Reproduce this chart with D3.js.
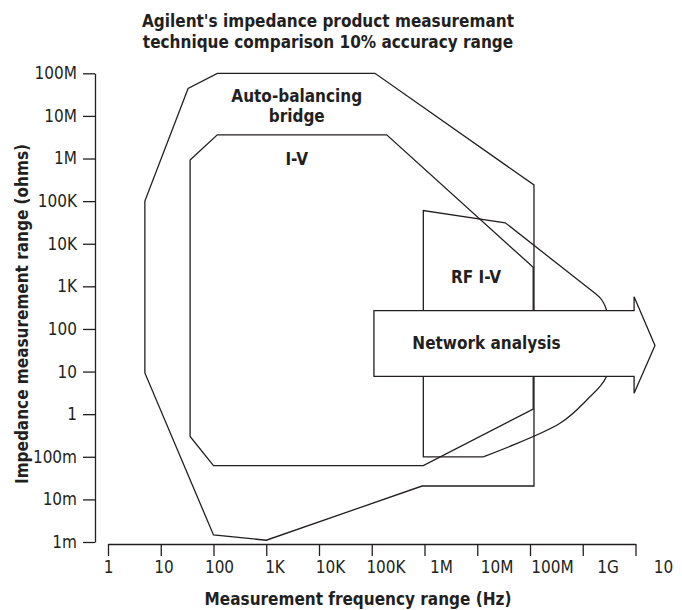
<!DOCTYPE html>
<html>
<head>
<meta charset="utf-8">
<script src="https://cdn.jsdelivr.net/npm/d3@7/dist/d3.min.js"></script>
<style>
  body { margin: 0; background: #fff; }
  svg { display: block; }
</style>
</head>
<body>
<div id="chart"></div>
<script>
// tick values and their printed labels
var xTicks = [1, 1e1, 1e2, 1e3, 1e4, 1e5, 1e6, 1e7, 1e8, 1e9, 1e10];
var xTickLabels = ['1', '10', '100', '1K', '10K', '100K', '1M', '10M', '100M', '1G', '10'];
var yTicks = [1e-3, 1e-2, 1e-1, 1, 1e1, 1e2, 1e3, 1e4, 1e5, 1e6, 1e7, 1e8];
var yTickLabels = ['1m', '10m', '100m', '1', '10', '100', '1K', '10K', '100K', '1M', '10M', '100M'];

// regions as [frequency Hz, impedance ohms]
var autoBalancing = [[118, 1e8], [1.15e5, 1e8], [1.19e8, 2.4e5], [1.19e8, 0.0206], [9e5, 0.0206],
  [1000, 1.1e-3], [100, 1.46e-3], [5, 9.3], [5, 1e5], [33, 4.4e7]];
var ivRange = [[36, 9.2e5], [118, 3.6e6], [1.92e5, 3.6e6], [1.15e8, 2800], [1.15e8, 1.32],
  [9.5e5, 0.062], [100, 0.062], [36, 0.3]];
var rfIvEdges = [[1.3e7, 0.1], [9.5e5, 0.1], [9.5e5, 6e4], [3.4e7, 3.1e4], [1.78e9, 660]];
var rfIvBend = [[1.78e9, 660], [2.3e9, 478], [2.85e9, 268], [3.15e9, 47], [2.8e9, 7.6],
  [1.19e9, 2.15], [3.7e8, 0.61], [1.3e7, 0.1]];
var networkArrow = [[1.1e5, 270], [9.4e9, 270], [9.4e9, 570], [2.34e10, 41], [9.4e9, 3.1],
  [9.4e9, 7.7], [1.1e5, 7.7]];

var regionNames = ['Auto-balancing', 'bridge', 'I-V', 'RF I-V', 'Network analysis'];
var regionNameFreq = [3780, 3780, 3780, 9.5e6, 1.5e7];
var regionNameOhms = [2.15e7, 7.3e6, 7e5, 1220, 33];

(function () {
  'use strict';

  var W = 682, H = 610,
    FONT = "'Liberation Sans Narrow', 'DejaVu Sans Condensed', 'Arial Narrow', sans-serif",
    INK = '#231f20',
    svg, x, xLabel, y, line, bend;

  svg = d3.select('#chart').append('svg')
    .attr('width', W)
    .attr('height', H)
    .attr('font-family', FONT);

  x = d3.scaleLog().domain([1, 1e10]).range([108, 635.5]);
  // the printed labels drift a little to the right of the ticks
  xLabel = d3.scaleLog().domain([1, 1e10]).range([108, 663]);
  y = d3.scaleLog().domain([1e-3, 1e8]).range([542, 73.3]);

  line = d3.line()
    .x(function (d) { return x(d[0]); })
    .y(function (d) { return y(d[1]); });
  bend = d3.line()
    .x(function (d) { return x(d[0]); })
    .y(function (d) { return y(d[1]); })
    .curve(d3.curveCatmullRom.alpha(0.5));

  function outline(pts, closed) {
    return svg.append('path')
      .attr('d', line(pts) + (closed ? 'Z' : ''))
      .attr('fill', 'none')
      .attr('stroke', INK)
      .attr('stroke-width', 1.3)
      .attr('stroke-linejoin', 'miter');
  }

  outline(autoBalancing, true);
  outline(ivRange, true);
  outline(rfIvEdges, false);
  svg.append('path')
    .attr('d', bend(rfIvBend))
    .attr('fill', 'none')
    .attr('stroke', INK)
    .attr('stroke-width', 1.3);

  outline(networkArrow, true).attr('fill', '#fff');

  // axes
  var gx = svg.append('g')
    .attr('transform', 'translate(0,544)')
    .call(d3.axisBottom(x).tickValues(xTicks).tickFormat('').tickSize(12).tickSizeOuter(0));

  var gxl = svg.append('g')
    .attr('transform', 'translate(0,544)')
    .call(d3.axisBottom(xLabel).tickValues(xTicks)
      .tickFormat(function (d, i) { return xTickLabels[i]; })
      .tickSize(0).tickPadding(17));
  gxl.select('.domain').remove();

  var gy = svg.append('g')
    .attr('transform', 'translate(95,0)')
    .call(d3.axisLeft(y).tickValues(yTicks)
      .tickFormat(function (d, i) { return yTickLabels[i]; })
      .tickSize(12).tickSizeOuter(0).tickPadding(6));

  [gx, gxl, gy].forEach(function (g) {
    g.attr('font-family', FONT).attr('font-size', 17);
    g.selectAll('path, line').attr('stroke', INK).attr('stroke-width', 1.3);
    g.selectAll('text').attr('fill', INK);
  });

  // region names
  svg.selectAll('text.region')
    .data(regionNames)
    .enter().append('text')
    .attr('class', 'region')
    .attr('x', function (d, i) { return x(regionNameFreq[i]); })
    .attr('y', function (d, i) { return y(regionNameOhms[i]); })
    .attr('text-anchor', 'middle')
    .attr('font-size', 17)
    .attr('font-weight', 'bold')
    .attr('fill', INK)
    .text(function (d) { return d; });

  // titles
  svg.append('text')
    .attr('x', 328).attr('y', 27)
    .attr('text-anchor', 'middle')
    .attr('font-size', 17).attr('font-weight', 'bold').attr('fill', INK)
    .text("Agilent's impedance product measuremant");
  svg.append('text')
    .attr('x', 328).attr('y', 48)
    .attr('text-anchor', 'middle')
    .attr('font-size', 17).attr('font-weight', 'bold').attr('fill', INK)
    .text('technique comparison 10% accuracy range');

  svg.append('text')
    .attr('x', 358).attr('y', 605)
    .attr('text-anchor', 'middle')
    .attr('font-size', 17).attr('font-weight', 'bold').attr('fill', INK)
    .text('Measurement frequency range (Hz)');

  svg.append('text')
    .attr('transform', 'translate(28,314) rotate(-90)')
    .attr('text-anchor', 'middle')
    .attr('font-size', 17).attr('font-weight', 'bold').attr('fill', INK)
    .text('Impedance measurement range (ohms)');
})();
</script>
</body>
</html>
